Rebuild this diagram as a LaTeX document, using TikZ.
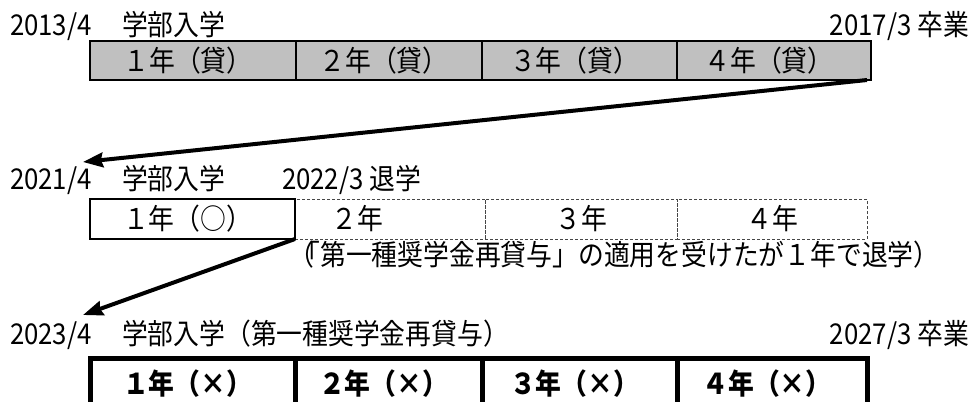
\documentclass[tikz,border=0pt]{standalone}
\usepackage{fontspec}
\setmainfont{Noto Sans CJK JP}[FakeStretch=0.9]
\usetikzlibrary{arrows.meta}
\definecolor{cellgray}{RGB}{192,192,192}
\definecolor{dashgray}{RGB}{70,70,70}
\begin{document}
\begin{tikzpicture}[x=0.75pt,y=-0.75pt,
  txt/.style={font=\fontsize{21.5}{24}\selectfont, inner sep=0pt, outer sep=0pt},
  lbl/.style={txt, anchor=base west},
  lblr/.style={txt, anchor=base east},
  cw/.style={minimum width=#1*0.75pt},
  ch/.style={minimum height=#1*0.75pt},
  cellbase/.style={txt, anchor=north west, shape=rectangle},
  loancell/.style={cellbase, draw=black, line width=1.5pt, fill=cellgray, ch=39},
  okcell/.style={cellbase, draw=black, line width=1.5pt, fill=white, ch=40},
  futcell/.style={cellbase, draw=dashgray, line width=0.75pt, dash pattern=on 2.25pt off 1.5pt, ch=40},
  nocell/.style={cellbase, draw=black, line width=3.75pt, ch=52, font=\fontsize{21.5}{24}\selectfont\bfseries},
  jump/.style={line width=3pt, -{Stealth[length=15pt,width=11pt,inset=1.5pt]}}
]
\clip (0,0) rectangle (977,401);
\useasboundingbox (0,0) rectangle (977,401);

% Row 1
\node[lbl] (d1a) at (10,35) {2013/4};
\node[lbl] (e1) at (122,35) {学部入学};
\node[lblr] (g1) at (969,35) {2017/3 卒業};
\node[loancell, cw=206] (r1c1) at (90,41) {１年（貸）\kern7.5pt};
\node[loancell, cw=186] (r1c2) at (296,41) {２年（貸）\kern7.5pt};
\node[loancell, cw=195] (r1c3) at (482,41) {３年（貸）\kern7.5pt};
\node[loancell, cw=194] (r1c4) at (677,41) {４年（貸）\kern7.5pt};

% Row 2
\node[lbl] (d2a) at (10,189) {2021/4};
\node[lbl] (e2) at (122,189) {学部入学};
\node[lbl] (q2) at (282,189) {2022/3 退学};
\node[futcell, cw=190] (r2c2) at (295,199) {２年\kern49.5pt};
\node[futcell, cw=192] (r2c3) at (485,199) {３年};
\node[futcell, cw=190] (r2c4) at (677,199) {４年};
\node[okcell, cw=205] (r2c1) at (90,199) {１年（○）\kern7.5pt};
\node[lbl] (note) at (288,265) {（\kern-14.5pt「第一種奨学金再貸与」の適用を受けたが１年で退学）};

% Row 3
\node[lbl] (d3a) at (10,344) {2023/4};
\node[lbl] (e3) at (122,344) {学部入学（第一種奨学金再貸与）};
\node[lblr] (g3) at (969,344) {2027/3 卒業};
\node[nocell, cw=205] (r3c1) at (90,358) {１年（×）\kern7.5pt};
\node[nocell, cw=187] (r3c2) at (295,358) {２年（×）\kern7.5pt};
\node[nocell, cw=195] (r3c3) at (482,358) {３年（×）\kern7.5pt};
\node[nocell, cw=190] (r3c4) at (677,358) {４年（×）\kern7.5pt};

% Arrows
\coordinate (t1) at (83,162);
\coordinate (t2) at (83,315);
\draw[jump] ([xshift=-3pt]r1c4.south east) -- (t1);
\draw[jump] (r2c1.south east) -- (t2);
\end{tikzpicture}
\end{document}
